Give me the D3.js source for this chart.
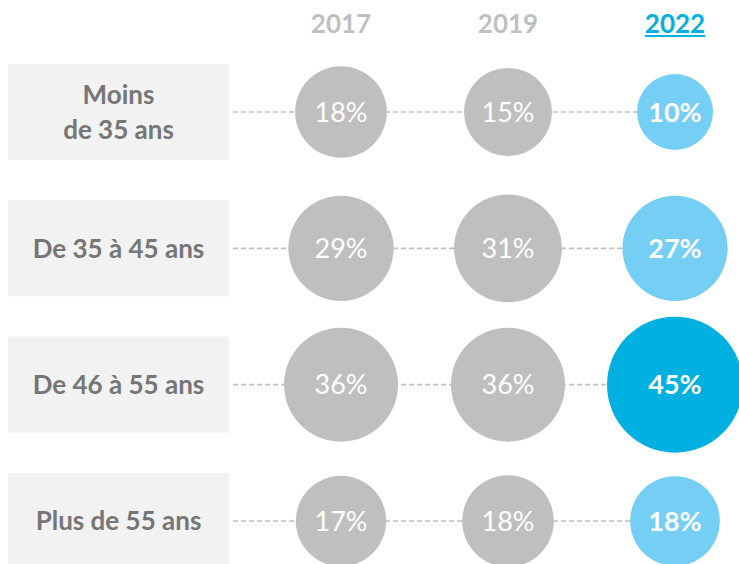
<!DOCTYPE html>
<html>
<head>
<meta charset="utf-8">
<script src="https://cdn.jsdelivr.net/npm/d3@7"></script>
<style>
  html, body { margin: 0; padding: 0; background: #fff; }
  svg { display: block; }
  text { font-family: Lato, "Open Sans", sans-serif; }
</style>
</head>
<body>
<svg id="chart" width="739" height="564"></svg>
<script>

// data
var years = ["2017", "2019", "2022"];
var ageGroups = [["Moins", "de 35 ans"], ["De 35 à 45 ans"], ["De 46 à 55 ans"], ["Plus de 55 ans"]];
var values2017 = [18, 29, 36, 17];
var values2019 = [15, 31, 36, 18];
var values2022 = [10, 27, 45, 18];
var highlightYear = "2022";

var series = { "2017": values2017, "2019": values2019, "2022": values2022 };

var svg = d3.select('#chart');
var width = 739, height = 564;

var grey = "#bfbfbf";
var lightBlue = "#75cef3";
var darkBlue = "#00b0e0";
var labelGrey = "#767676";

var rowKeys = ageGroups.map(function(d){ return d.join(" "); });

var x = d3.scalePoint().domain(years).range([341, 675]);
var y = d3.scalePoint().domain(rowKeys).range([112, 521]);

// the highlighted year is sized on its own scale
var rGrey = d3.scaleLinear().domain([15, 36]).range([44, 57]);
var rHighlight = d3.scaleLinear().domain([10, 45]).range([38, 68]);

var boxLeft = 8, boxRight = 229, boxHeight = 96;
var lineStart = 233;

// year headers
var header = svg.append('g');
header.selectAll('text')
  .data(years)
  .enter().append('text')
  .attr('x', function(d){ return x(d); })
  .attr('y', 33)
  .attr('text-anchor', 'middle')
  .attr('font-size', 26)
  .attr('font-weight', 'bold')
  .attr('fill', function(d){ return d === highlightYear ? darkBlue : grey; })
  .text(function(d){ return d; })
  .each(function(d){
    if (d !== highlightYear) return;
    var w = this.getComputedTextLength();
    header.append('rect')
      .attr('x', x(d) - w / 2)
      .attr('y', 35)
      .attr('width', w)
      .attr('height', 2)
      .attr('fill', darkBlue);
  });

var rows = svg.selectAll('g.row')
  .data(ageGroups)
  .enter().append('g')
  .attr('class', 'row')
  .attr('transform', function(d){ return 'translate(0,' + y(d.join(" ")) + ')'; });

rows.append('rect')
  .attr('x', boxLeft)
  .attr('y', -boxHeight / 2)
  .attr('width', boxRight - boxLeft)
  .attr('height', boxHeight)
  .attr('fill', '#f2f2f2');

rows.each(function(lines){
  var t = d3.select(this).append('text')
    .attr('x', (boxLeft + boxRight) / 2)
    .attr('text-anchor', 'middle')
    .attr('font-size', 26)
    .attr('font-weight', 'bold')
    .attr('fill', labelGrey);
  var lh = 35;
  var top = -(lines.length - 1) * lh / 2;
  lines.forEach(function(line, i){
    t.append('tspan')
      .attr('x', (boxLeft + boxRight) / 2)
      .attr('y', top + i * lh)
      .attr('dy', '0.36em')
      .text(line);
  });
});

// dashed connector
rows.append('line')
  .attr('x1', lineStart)
  .attr('x2', x(years[years.length - 1]))
  .attr('y1', 0)
  .attr('y2', 0)
  .attr('stroke', grey)
  .attr('stroke-width', 1.6)
  .attr('stroke-dasharray', '5,3');

var maxHighlight = d3.max(series[highlightYear]);

rows.each(function(lines, i){
  var g = d3.select(this);
  years.forEach(function(yr){
    var v = series[yr][i];
    var isHi = yr === highlightYear;
    var fill = !isHi ? grey : (v === maxHighlight ? darkBlue : lightBlue);
    g.append('circle')
      .attr('cx', x(yr))
      .attr('cy', 0)
      .attr('r', isHi ? rHighlight(v) : rGrey(v))
      .attr('fill', fill);
    g.append('text')
      .attr('x', x(yr))
      .attr('y', 0)
      .attr('dy', '0.36em')
      .attr('text-anchor', 'middle')
      .attr('font-size', 27)
      .attr('font-weight', isHi ? 'bold' : 'normal')
      .attr('fill', '#fff')
      .text(v + '%');
  });
});

</script>
</body>
</html>
